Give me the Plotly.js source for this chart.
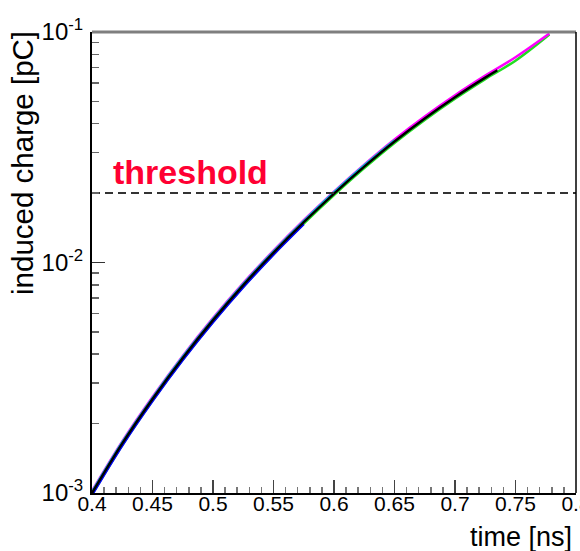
<!DOCTYPE html>
<html>
<head>
<meta charset="utf-8">
<script src="https://cdn.plot.ly/plotly-3.0.1.min.js"></script>
<style>
html,body{margin:0;padding:0;background:#fff;}
#chart{width:580px;height:551px;}
</style>
</head>
<body>
<div id="chart"></div>
<script>
// ---- data ----
const timeNs      = [0.400, 0.425, 0.450, 0.475, 0.500, 0.525, 0.550, 0.575, 0.600, 0.625, 0.650, 0.675, 0.700, 0.725, 0.750, 0.778];
const blackTimeNs = [0.400, 0.425, 0.450, 0.475, 0.500, 0.525, 0.550, 0.575, 0.600, 0.625, 0.650, 0.675, 0.700, 0.725, 0.735];
const chargeBlack   = [0.00100, 0.001641, 0.002559, 0.003855, 0.005623, 0.00798, 0.01104, 0.01496, 0.01991, 0.02606, 0.03350, 0.04217, 0.05212, 0.06339, 0.06823];
const chargeGreen   = [0.000985, 0.001616, 0.002521, 0.003797, 0.005539, 0.00786, 0.01088, 0.01474, 0.01961, 0.02567, 0.03300, 0.04154, 0.05134, 0.06244, 0.07507, 0.0975];
const chargeMagenta = [0.00102, 0.001674, 0.002610, 0.003932, 0.005735, 0.00814, 0.01126, 0.01526, 0.02031, 0.02658, 0.03417, 0.04301, 0.05316, 0.06466, 0.07773, 0.0985];
const chargeBlue    = [0.00098, 0.001608, 0.002508, 0.003778, 0.005511, 0.00782, 0.01082, 0.01466];
const chargeCyan    = [0.001015, 0.001666, 0.002597, 0.003913, 0.005707, 0.00810, 0.01121, 0.01519, 0.02021, 0.02645, 0.03400];
const thresholdX = [0.4, 0.8];
const thresholdY = [0.02, 0.02];
const thresholdLabel = 'threshold';
const xTickVals = [0.4, 0.45, 0.5, 0.55, 0.6, 0.65, 0.7, 0.75, 0.8];
const xTickText = ['0.4', '0.45', '0.5', '0.55', '0.6', '0.65', '0.7', '0.75', '0.8'];
const yTickVals = [0.001, 0.01, 0.1];
const yTickText = ['10<sup>-3</sup>', '10<sup>-2</sup>', '10<sup>-1</sup>'];
const yMinorVals = [0.002,0.003,0.004,0.005,0.006,0.007,0.008,0.009,0.02,0.03,0.04,0.05,0.06,0.07,0.08,0.09];
const xTitle = 'time [ns]';
const yTitle = 'induced charge [pC]';

const FONT = 'Liberation Sans, Arial, Helvetica, sans-serif';

function curve(t, y, color, w) {
  return {x: t.slice(0, y.length), y: y, type: 'scatter', mode: 'lines',
          line: {color: color, width: w, shape: 'spline', smoothing: 1}, hoverinfo: 'skip', showlegend: false};
}

const traces = [
  curve(timeNs, chargeGreen, '#22dd22', 2.5),
  curve(timeNs, chargeMagenta, '#ff00ff', 2.5),
  curve(timeNs, chargeCyan, '#00d0e0', 2),
  curve(timeNs, chargeBlue, '#0000ff', 2.5),
  curve(blackTimeNs, chargeBlack, '#000000', 2.5),
  {x: thresholdX, y: thresholdY, type: 'scatter', mode: 'lines',
   line: {color: '#333333', width: 2, dash: '8px,5px'}, hoverinfo: 'skip', showlegend: false}
];

const layout = {
  width: 580, height: 551,
  margin: {l: 91.7, r: 3.5, t: 32, b: 58, pad: 0},
  paper_bgcolor: '#ffffff', plot_bgcolor: '#ffffff',
  showlegend: false,
  font: {family: FONT, color: '#000'},
  xaxis: {
    range: [0.4, 0.8], tickmode: 'array', tickvals: xTickVals, ticktext: xTickText,
    ticks: 'inside', ticklen: 13, tickwidth: 1.5, tickcolor: '#444',
    minor: {dtick: 0.01, tick0: 0.4, ticks: 'inside', ticklen: 6.5, tickwidth: 1.5, tickcolor: '#777', showgrid: false},
    showline: true, linecolor: '#000', linewidth: 2, showgrid: false, zeroline: false,
    tickfont: {family: FONT, size: 21, color: '#000'}, ticklabelstandoff: -9, ticklabeloverflow: 'allow'
  },
  yaxis: {
    type: 'log', range: [-3, -1], tickmode: 'array', tickvals: yTickVals, ticktext: yTickText,
    ticks: 'inside', ticklen: 13, tickwidth: 1.5, tickcolor: '#333',
    minor: {tickmode: 'array', tickvals: yMinorVals, ticks: 'inside', ticklen: 6.5, tickwidth: 1.5, tickcolor: '#666', showgrid: false},
    showline: true, linecolor: '#000', linewidth: 2, showgrid: false, zeroline: false,
    tickfont: {family: FONT, size: 24, color: '#000'}, ticklabelstandoff: 2, ticklabeloverflow: 'allow'
  },
  shapes: [
    {type: 'line', xref: 'paper', yref: 'paper', x0: 0, x1: 1, y0: 1, y1: 1, line: {color: '#7f7f7f', width: 3}},
    {type: 'line', xref: 'paper', yref: 'paper', x0: 1, x1: 1, y0: 0, y1: 1, line: {color: '#000', width: 1.5}}
  ],
  annotations: [
    {text: thresholdLabel, xref: 'paper', yref: 'y', x: 0.040, y: Math.log10(thresholdY[0]),
     xanchor: 'left', yanchor: 'bottom', yshift: 0, showarrow: false,
     font: {family: FONT, size: 34, color: '#ff0033', weight: 'bold'}},
    {text: xTitle, xref: 'paper', yref: 'paper', x: 0.9965, y: -0.058, xanchor: 'right', yanchor: 'top',
     showarrow: false, font: {family: FONT, size: 27, color: '#000'}},
    {text: yTitle, xref: 'paper', yref: 'paper', x: -0.1447, y: 1.0065, xanchor: 'center', yanchor: 'top',
     textangle: -90, showarrow: false, font: {family: FONT, size: 29.5, color: '#000'}}
  ]
};

Plotly.newPlot('chart', traces, layout, {staticPlot: true, displayModeBar: false});
</script>
</body>
</html>
